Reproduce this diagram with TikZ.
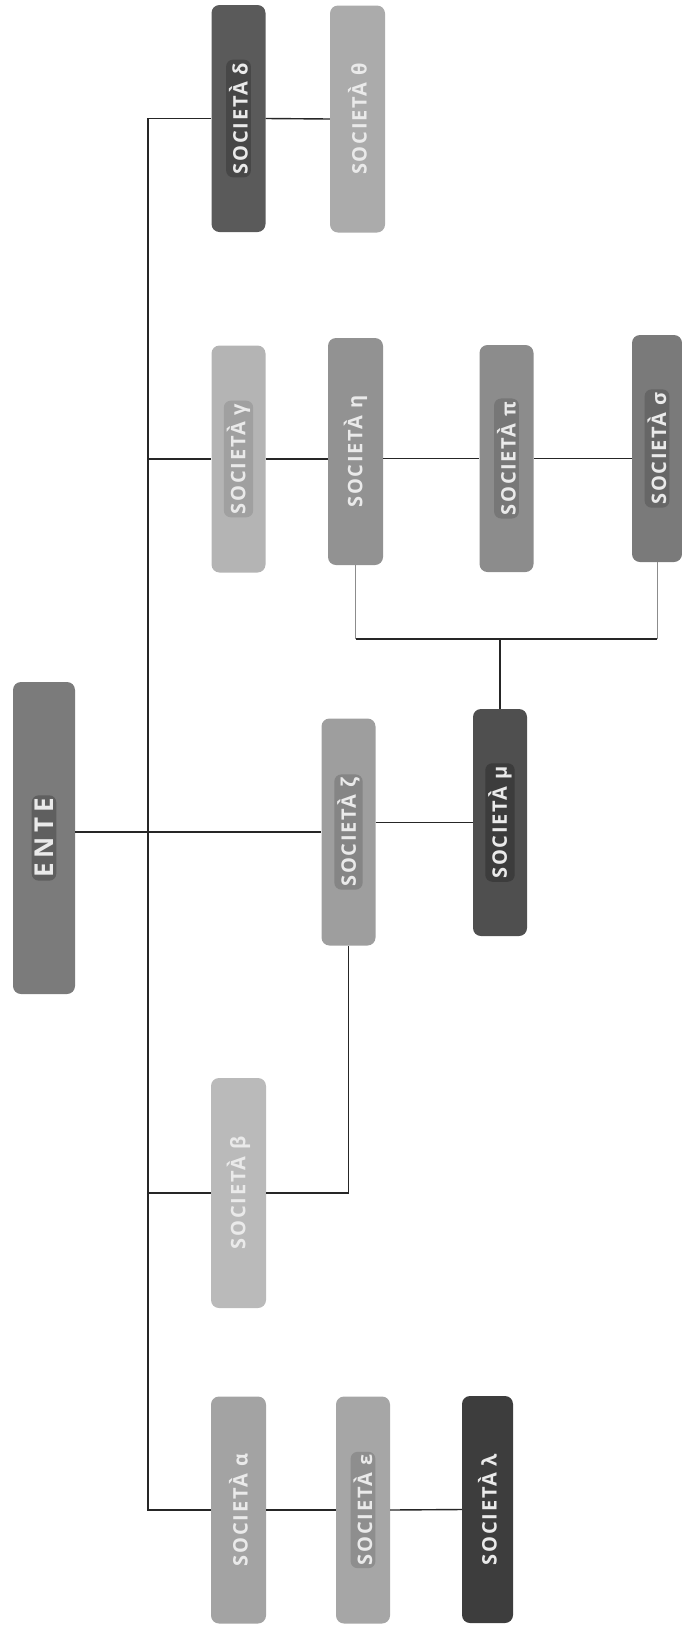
\documentclass[tikz,border=0pt]{standalone}
\usepackage{fontspec}
\setmainfont{Open Sans}[LetterSpace=9]
\newfontfamily\entefont{Open Sans}[LetterSpace=18]

\definecolor{cEnte}{HTML}{7B7B7B}  \definecolor{pEnte}{HTML}{5F5F5F}
\definecolor{cDelta}{HTML}{5A5A5A} \definecolor{pDelta}{HTML}{474747}
\definecolor{cTheta}{HTML}{ABABAB}
\definecolor{cGamma}{HTML}{B4B4B4} \definecolor{pGamma}{HTML}{A0A0A0}
\definecolor{cEta}{HTML}{929292}
\definecolor{cPi}{HTML}{8C8C8C}    \definecolor{pPi}{HTML}{777777}
\definecolor{cSigma}{HTML}{7A7A7A} \definecolor{pSigma}{HTML}{666666}
\definecolor{cZeta}{HTML}{9E9E9E}  \definecolor{pZeta}{HTML}{858585}
\definecolor{cMu}{HTML}{4F4F4F}    \definecolor{pMu}{HTML}{3C3C3C}
\definecolor{cBeta}{HTML}{BABABA}
\definecolor{cAlpha}{HTML}{A3A3A3}
\definecolor{cEps}{HTML}{A6A6A6}   \definecolor{pEps}{HTML}{8E8E8E}
\definecolor{cLambda}{HTML}{3D3D3D}
\definecolor{socText}{HTML}{EAEAEA}

\tikzset{
  soc/.style={rounded corners=8pt, minimum width=54pt, minimum height=227pt,
    inner sep=0pt, text=socText, font=\bfseries\fontsize{20}{22}\selectfont},
  pillbox/.style={rounded corners=7pt, inner sep=3pt, minimum width=0pt,
    minimum height=0pt},
  link/.style={line width=1.4pt, black!85},
  leg/.style={line width=0.8pt, black!45}
}
\newcommand\pill[2]{\tikz[baseline=(pl.base)]\node[pillbox, fill=#1] (pl) {#2};}

\begin{document}
\begin{tikzpicture}[x=1pt,y=-1pt]
\useasboundingbox (0,0) rectangle (682,1631);

% vertice
\node[soc, fill=cEnte, minimum width=62pt, minimum height=312pt,
  font=\entefont\bfseries\fontsize{26}{28}\selectfont] (ente) at (44,838)
  {\rotatebox{90}{\pill{pEnte}{ENTE}}};

% societa
\node[soc, fill=cDelta] (sdelta) at (238.5,118.5) {\rotatebox{90}{\pill{pDelta}{SOCIETÀ δ}}};
\node[soc, fill=cTheta, minimum width=55pt] (stheta) at (357.5,119) {\rotatebox{90}{SOCIETÀ θ}};
\node[soc, fill=cGamma] (sgamma) at (238.5,459) {\rotatebox{90}{\pill{pGamma}{SOCIETÀ γ}}};
\node[soc, fill=cEta, minimum width=55pt] (seta) at (355.5,451.5) {\rotatebox{90}{SOCIETÀ η}};
\node[soc, fill=cPi] (spi) at (506.5,458.5) {\rotatebox{90}{\pill{pPi}{SOCIETÀ π}}};
\node[soc, fill=cSigma, minimum width=50pt] (ssigma) at (657,448.5) {\rotatebox{90}{\pill{pSigma}{SOCIETÀ σ}}};
\node[soc, fill=cZeta] (szeta) at (348.5,832) {\rotatebox{90}{\pill{pZeta}{SOCIETÀ ζ}}};
\node[soc, fill=cMu] (smu) at (500,822.5) {\rotatebox{90}{\pill{pMu}{SOCIETÀ μ}}};
\node[soc, fill=cBeta, minimum width=55pt, minimum height=230pt] (sbeta) at (238.5,1193) {\rotatebox{90}{SOCIETÀ β}};
\node[soc, fill=cAlpha, minimum width=55pt] (salpha) at (238.5,1510) {\rotatebox{90}{SOCIETÀ α}};
\node[soc, fill=cEps] (seps) at (363,1510) {\rotatebox{90}{\pill{pEps}{SOCIETÀ ε}}};
\node[soc, fill=cLambda, minimum width=51pt] (slambda) at (487.5,1509.5) {\rotatebox{90}{SOCIETÀ λ}};

% collegamenti
\coordinate (trunk) at (148,118);
\draw[link] (sdelta.west) -- (sdelta.west -| trunk) |- (salpha.west);
\draw[link] (sgamma.west -| trunk) -- (sgamma.west);
\draw[link] (sbeta.west -| trunk) -- (sbeta.west);
\draw[link] (szeta.west -| ente.east) -- (szeta.west);
\draw[link] (sdelta.east) -- (stheta.west);
\draw[link] (sgamma.east) -- (sgamma.east -| seta.west);
\draw[link] (spi.west -| seta.east) -- (spi.west);
\draw[link] (spi.east) -- (spi.east -| ssigma.west);
\draw[link] (smu.west -| szeta.east) -- (smu.west);
\draw[link] (salpha.east) -- (seps.west);
\draw[link] (seps.east) -- (slambda.west);
\draw[link] (sbeta.east) -| (szeta.south);

% partecipazione comune
\coordinate (join) at (500,639);
\draw[link] (smu.north) -- (join);
\draw[link] (seta.south |- join) -- (ssigma.south |- join);
\draw[leg] (seta.south) -- (seta.south |- join);
\draw[leg] (ssigma.south) -- (ssigma.south |- join);
\end{tikzpicture}
\end{document}
